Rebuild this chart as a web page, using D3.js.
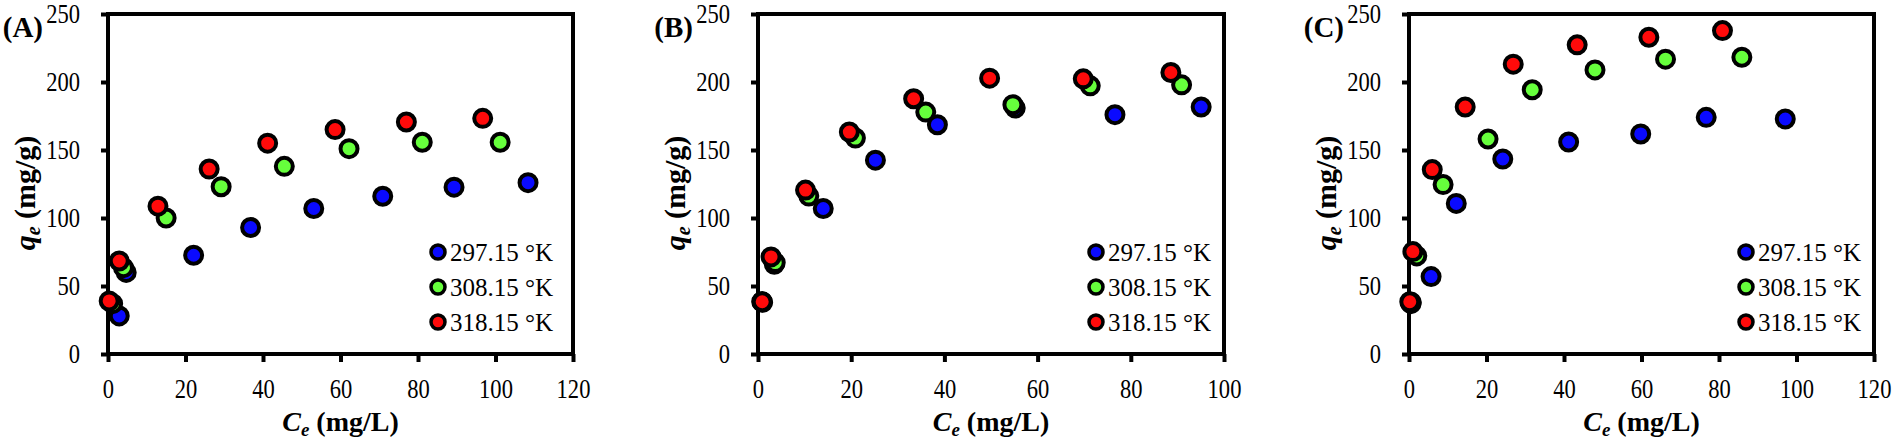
<!DOCTYPE html>
<html>
<head>
<meta charset="utf-8">
<script src="https://cdn.jsdelivr.net/npm/d3@7"></script>
<style>
    body { margin: 0; background: #fff; }
    text { font-family: "Liberation Serif", "Times New Roman", serif; fill: #000; }
</style>
</head>
<body>
<div id="visualization"></div>
<script>
// series labels and colours
const temps = ["297.15 °K", "308.15 °K", "318.15 °K"];
const colors = ["#0a0aff", "#66ff3c", "#ff0a0a"];

// panel A
const ceA297 = [2.9, 4.7, 22.1, 36.8, 53.1, 70.9, 89.3, 108.4];
const qeA297 = [28, 60, 72.6, 93, 107, 116, 122.7, 126];
const ceA308 = [1.2, 4.0, 15.0, 29.2, 45.5, 62.2, 81.1, 101.2];
const qeA308 = [37, 63.5, 100, 123, 138, 151, 155.7, 155.7];
const ceA318 = [0.3, 2.9, 12.9, 26.1, 41.2, 58.6, 77.0, 96.7];
const qeA318 = [39, 68.4, 108.7, 136, 155, 165, 170.6, 173.3];

// panel B
const ceB297 = [1.0, 3.5, 14.0, 25.2, 38.5, 55.2, 76.6, 95.1];
const qeB297 = [38, 66, 107, 142.5, 168.6, 180.8, 176, 181.6];
const ceB308 = [0.8, 3.7, 10.9, 20.9, 36.0, 54.7, 71.3, 90.9];
const qeB308 = [38.5, 67.2, 116.1, 158.8, 177.9, 183.3, 197.2, 197.9];
const ceB318 = [0.9, 2.8, 10.2, 19.6, 33.4, 49.7, 69.8, 88.6];
const qeB318 = [38.4, 71.4, 120.5, 163.2, 187.7, 202.8, 202.3, 207.0];

// panel C
const ceC297 = [0.5, 5.7, 12.2, 24.2, 41.2, 59.8, 76.7, 97.1];
const qeC297 = [37, 56.9, 110.7, 143.4, 155.9, 161.8, 174.0, 172.8];
const ceC308 = [0.6, 2.0, 8.8, 20.4, 31.8, 48.0, 66.2, 85.9];
const qeC308 = [38, 72.1, 124.6, 158.1, 194.3, 208.9, 216.8, 218.2];
const ceC318 = [0.2, 1.0, 6.0, 14.5, 26.9, 43.4, 61.9, 80.9];
const qeC318 = [38.4, 75.3, 135.6, 181.6, 213.1, 227.3, 232.9, 237.8];

// axis ticks
const yTicks = [0, 50, 100, 150, 200, 250];
const xTicks120 = [0, 20, 40, 60, 80, 100, 120];
const xTicks100 = [0, 20, 40, 60, 80, 100];

const panels = [
    { label: "(A)", left: 108, right: 573, xMax: 120, xTicks: xTicks120, legendOff: 135,
      series: [[ceA297, qeA297], [ceA308, qeA308], [ceA318, qeA318]] },
    { label: "(B)", left: 758, right: 1224, xMax: 100, xTicks: xTicks100, legendOff: 128,
      series: [[ceB297, qeB297], [ceB308, qeB308], [ceB318, qeB318]] },
    { label: "(C)", left: 1409, right: 1874, xMax: 120, xTicks: xTicks120, legendOff: 128,
      series: [[ceC297, qeC297], [ceC308, qeC308], [ceC318, qeC318]] }
];

const plotTop = 14, plotBottom = 354;
// the original figure is a little stretched vertically, so tick text is too
const sx = 0.94, sy = 1.1;

const svg = d3.select("#visualization")
    .append("svg")
    .attr("width", 1892)
    .attr("height", 443);

panels.forEach(p => drawPanel(p));

function drawPanel(p) {
    const width = p.right - p.left;
    const height = plotBottom - plotTop;

    const g = svg.append("g")
        .attr("transform", `translate(${p.left}, ${plotTop})`);

    const x = d3.scaleLinear().domain([0, p.xMax]).range([0, width]);
    const y = d3.scaleLinear().domain([0, 250]).range([height, 0]);

    // axes
    const xAxis = g.append("g")
        .attr("transform", `translate(0, ${height})`)
        .call(d3.axisBottom(x).tickValues(p.xTicks).tickSizeInner(8).tickSizeOuter(0).tickPadding(17));
    const yAxis = g.append("g")
        .call(d3.axisLeft(y).tickValues(yTicks).tickSizeInner(7).tickSizeOuter(0).tickPadding(21));

    [xAxis, yAxis].forEach(a => {
        a.attr("font-family", null);
        a.select(".domain").remove();
        a.selectAll("line").attr("stroke", "#000").attr("stroke-width", 4);
        a.selectAll("text")
            .style("font-size", "24px")
            .attr("fill", "#000")
            .attr("transform", `scale(${sx}, ${sy})`);
    });
    xAxis.selectAll("text").attr("y", 25 / sy);
    yAxis.selectAll("text").attr("x", -28 / sx);

    // frame
    g.append("rect")
        .attr("width", width)
        .attr("height", height)
        .attr("fill", "none")
        .attr("stroke", "#000")
        .attr("stroke-width", 4);

    // points
    p.series.forEach((s, i) => {
        const pts = s[0].map((c, j) => [c, s[1][j]]);
        g.append("g")
            .selectAll("circle")
            .data(pts)
            .enter()
            .append("circle")
            .attr("cx", d => x(d[0]))
            .attr("cy", d => y(d[1]))
            .attr("r", 8.5)
            .attr("fill", colors[i])
            .attr("stroke", "#000")
            .attr("stroke-width", 4);
    });

    // legend
    const legend = g.append("g")
        .attr("transform", `translate(${width - p.legendOff}, 238)`);
    temps.forEach((t, i) => {
        legend.append("circle")
            .attr("cx", 0)
            .attr("cy", i * 35)
            .attr("r", 7)
            .attr("fill", colors[i])
            .attr("stroke", "#000")
            .attr("stroke-width", 3.5);
        legend.append("text")
            .attr("x", 12)
            .attr("y", i * 35)
            .attr("dy", "0.35em")
            .style("font-size", "25px")
            .text(t);
    });

    // x title
    const xt = g.append("text")
        .attr("x", width / 2)
        .attr("y", 431 - plotTop)
        .attr("text-anchor", "middle")
        .style("font-size", "28px")
        .style("font-weight", "bold");
    xt.append("tspan").style("font-style", "italic").text("C");
    xt.append("tspan").style("font-style", "italic").style("font-size", "19px").attr("dy", 5).text("e");
    xt.append("tspan").attr("dy", -5).text(" (mg/L)");

    // y title
    const yt = g.append("text")
        .attr("transform", `translate(-73, ${193 - plotTop}) rotate(-90)`)
        .attr("text-anchor", "middle")
        .style("font-size", "30px")
        .style("font-weight", "bold");
    yt.append("tspan").style("font-style", "italic").text("q");
    yt.append("tspan").style("font-style", "italic").style("font-size", "20px").attr("dy", 5).text("e");
    yt.append("tspan").attr("dy", -5).text(" (mg/g)");

    // panel label
    g.append("text")
        .attr("x", -65)
        .attr("y", 37 - plotTop)
        .attr("text-anchor", "end")
        .style("font-size", "29px")
        .style("font-weight", "bold")
        .text(p.label);
}
</script>
</body>
</html>
